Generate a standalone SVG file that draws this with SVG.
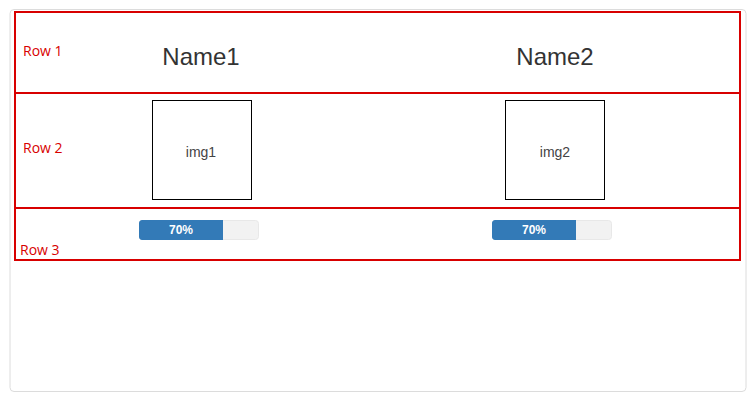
<svg xmlns="http://www.w3.org/2000/svg" width="756" height="403" viewBox="0 0 756 403">
<style>
.lbl{font-family:"Open Sans","Liberation Sans",sans-serif;font-size:14px;fill:#d80000}
.name{font-family:"Liberation Sans",Arial,sans-serif;font-size:24px;fill:#333;text-anchor:middle}
.img{fill:#fff;stroke:#000;stroke-width:1}
.imgt{font-family:"Liberation Sans",Arial,sans-serif;font-size:14px;fill:#444;text-anchor:middle}
.track{fill:#f2f2f2;stroke:#e8e8e8;stroke-width:1}
.bar{fill:#337ab7}
.pt{font-family:"Liberation Sans",Arial,sans-serif;font-size:12px;font-weight:bold;fill:#fff;text-anchor:middle}
.red{fill:none;stroke:#d80000;stroke-width:2}
</style>
<rect width="756" height="403" fill="#fff"/>
<rect id="card" x="10" y="9.5" width="736" height="382" rx="4" fill="#fff" stroke="#dcdcdc" stroke-width="1"/>
<g id="rows">
<rect class="red" x="15" y="12" width="725" height="248"/>
<line class="red" x1="15" y1="93" x2="740" y2="93"/>
<line class="red" x1="15" y1="208" x2="740" y2="208"/>
</g>
<g id="labels">
<text class="lbl" x="23" y="56">Row 1</text>
<text class="lbl" x="23" y="153">Row 2</text>
<text class="lbl" x="20" y="255">Row 3</text>
</g>
<g id="name1"><text class="name" x="201" y="65">Name1</text></g>
<g id="name2"><text class="name" x="555" y="65">Name2</text></g>
<g id="img1"><rect class="img" x="152.5" y="100.5" width="99" height="99"/><text class="imgt" x="201" y="157">img1</text></g>
<g id="img2"><rect class="img" x="505.5" y="100.5" width="99" height="99"/><text class="imgt" x="555" y="157">img2</text></g>
<g id="progress1">
<rect class="track" x="139.5" y="220.5" width="119" height="19" rx="3"/>
<path class="bar" d="M142.5 220 H223 V240 H142.5 A3 3 0 0 1 139 237 V223 A3 3 0 0 1 142.5 220 Z"/>
<text class="pt" x="181" y="234">70%</text>
</g>
<g id="progress2">
<rect class="track" x="492.5" y="220.5" width="119" height="19" rx="3"/>
<path class="bar" d="M495.5 220 H576 V240 H495.5 A3 3 0 0 1 492 237 V223 A3 3 0 0 1 495.5 220 Z"/>
<text class="pt" x="534" y="234">70%</text>
</g>
</svg>
